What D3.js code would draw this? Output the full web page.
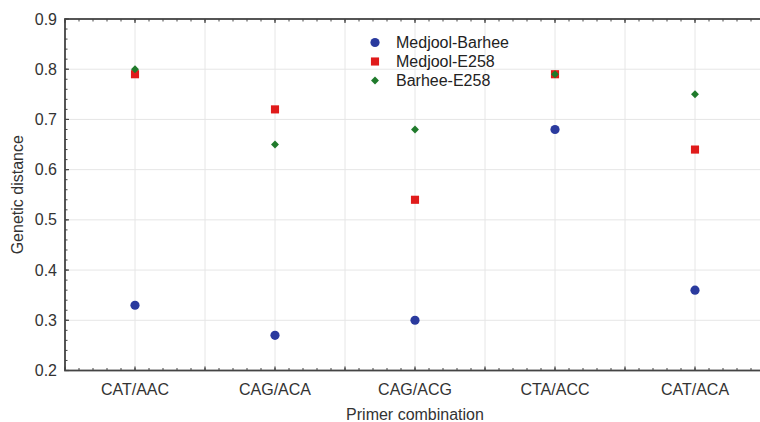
<!DOCTYPE html>
<html>
<head>
<meta charset="utf-8">
<script src="https://cdn.jsdelivr.net/npm/d3@7"></script>
<style>
  html, body { margin: 0; padding: 0; background: #fff; }
  svg { display: block; font-family: "Liberation Sans", Arial, sans-serif; }
</style>
</head>
<body>
<svg id="chart" width="760" height="422"></svg>
<script>
const categories = ["CAT/AAC", "CAG/ACA", "CAG/ACG", "CTA/ACC", "CAT/ACA"];
const medjoolBarhee = [0.33, 0.27, 0.30, 0.68, 0.36];
const medjoolE258   = [0.79, 0.72, 0.54, 0.79, 0.64];
const barheeE258    = [0.80, 0.65, 0.68, 0.79, 0.75];
const yTickValues = [0.2, 0.3, 0.4, 0.5, 0.6, 0.7, 0.8, 0.9];
const seriesNames = ["Medjool-Barhee", "Medjool-E258", "Barhee-E258"];

const svg = d3.select("#chart");
const L = 65, R = 765, T = 19, B = 370.5;

const x = d3.scaleLinear().domain([-0.5, categories.length - 0.5]).range([L, R]);
const y = d3.scaleLinear().domain([0.2, 0.9]).range([B, T]);

const gridColor = "#e6e6e6";
const axisColor = "#444";
const textColor = "#333";

// grid
const xGrid = d3.range(0, categories.length * 2 - 1).map(i => i * 0.5);
svg.append("g").selectAll("line").data(xGrid).join("line")
  .attr("x1", d => x(d)).attr("x2", d => x(d))
  .attr("y1", T).attr("y2", B)
  .attr("stroke", gridColor).attr("stroke-width", 1);
svg.append("g").selectAll("line").data(yTickValues.slice(1, -1)).join("line")
  .attr("x1", L).attr("x2", R)
  .attr("y1", d => y(d)).attr("y2", d => y(d))
  .attr("stroke", gridColor).attr("stroke-width", 1);

// axes with inward ticks
const xMajor = d3.range(-1, categories.length * 2).map(i => i * 0.5);
const xMinor = d3.range(-5, categories.length * 10 - 4).map(i => i / 10);
const yMinor = d3.range(10, 46).map(i => i / 50);

function xTicks(yPos, dir) {
  const g = svg.append("g");
  g.selectAll(".mn").data(xMinor).join("line")
    .attr("x1", d => x(d)).attr("x2", d => x(d))
    .attr("y1", yPos).attr("y2", yPos + dir * 2.5)
    .attr("stroke", axisColor).attr("stroke-width", 1);
  g.selectAll(".mj").data(xMajor).join("line")
    .attr("x1", d => x(d)).attr("x2", d => x(d))
    .attr("y1", yPos).attr("y2", yPos + dir * 4)
    .attr("stroke", axisColor).attr("stroke-width", 1.2);
}
function yTicks(xPos, dir) {
  const g = svg.append("g");
  g.selectAll(".mn").data(yMinor).join("line")
    .attr("y1", d => y(d)).attr("y2", d => y(d))
    .attr("x1", xPos).attr("x2", xPos + dir * 2.5)
    .attr("stroke", axisColor).attr("stroke-width", 1);
  g.selectAll(".mj").data(yTickValues).join("line")
    .attr("y1", d => y(d)).attr("y2", d => y(d))
    .attr("x1", xPos).attr("x2", xPos + dir * 4)
    .attr("stroke", axisColor).attr("stroke-width", 1.2);
}
xTicks(B, -1);
xTicks(T, 1);
yTicks(L, 1);
yTicks(R, -1);

svg.append("rect")
  .attr("x", L).attr("y", T).attr("width", R - L).attr("height", B - T)
  .attr("fill", "none").attr("stroke", axisColor).attr("stroke-width", 1.8);

// tick labels
svg.append("g").selectAll("text").data(yTickValues).join("text")
  .attr("x", L - 8).attr("y", d => y(d)).attr("dy", "0.35em")
  .attr("text-anchor", "end").attr("font-size", 16).attr("fill", textColor)
  .text(d => d.toFixed(1));
svg.append("g").selectAll("text").data(categories).join("text")
  .attr("x", (d, i) => x(i)).attr("y", 395)
  .attr("text-anchor", "middle").attr("font-size", 16).attr("fill", textColor)
  .text(d => d);

// axis titles
svg.append("text")
  .attr("x", (L + R) / 2).attr("y", 420)
  .attr("text-anchor", "middle").attr("font-size", 16).attr("fill", textColor)
  .text("Primer combination");
svg.append("text")
  .attr("transform", `translate(23,${(T + B) / 2}) rotate(-90)`)
  .attr("text-anchor", "middle").attr("font-size", 16).attr("fill", textColor)
  .text("Genetic distance");

// markers
const colors = ["#2a3a9e", "#e01b1b", "#1f7a2b"];
const shapes = [
  d3.symbol().type(d3.symbolCircle).size(66),
  d3.symbol().type(d3.symbolSquare).size(66),
  d3.symbol().type(d3.symbolDiamond2).size(40)
];
const series = [medjoolBarhee, medjoolE258, barheeE258];
series.forEach((vals, s) => {
  svg.append("g").selectAll("path").data(vals).join("path")
    .attr("transform", (d, i) => `translate(${x(i)},${y(d)})`)
    .attr("d", shapes[s]())
    .attr("fill", colors[s]);
});

// legend
const legend = svg.append("g");
seriesNames.forEach((name, s) => {
  const ly = 42.5 + s * 19;
  legend.append("path")
    .attr("transform", `translate(375,${ly})`)
    .attr("d", shapes[s]())
    .attr("fill", colors[s]);
  legend.append("text")
    .attr("x", 396).attr("y", ly).attr("dy", "0.35em")
    .attr("font-size", 16).attr("fill", "#222")
    .text(name);
});
</script>
</body>
</html>
